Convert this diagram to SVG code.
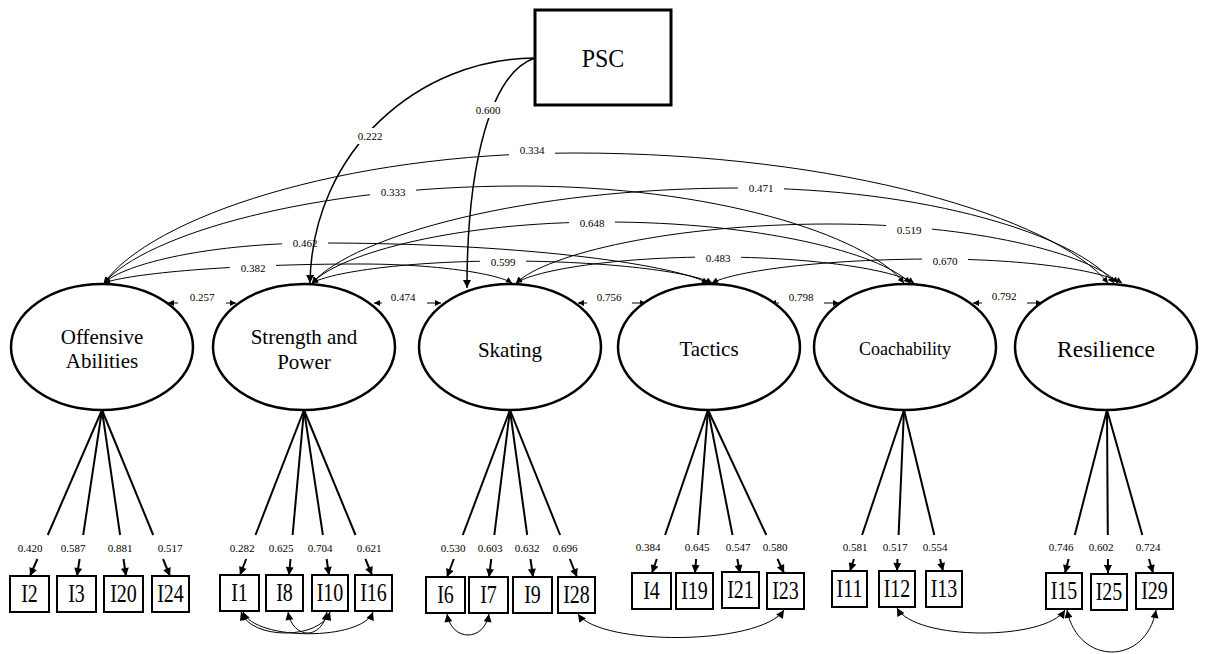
<svg xmlns="http://www.w3.org/2000/svg" width="1205" height="654" viewBox="0 0 1205 654">
  <defs>
    <marker id="tip" viewBox="0 0 10 10" refX="10" refY="5" markerWidth="7" markerHeight="6" markerUnits="userSpaceOnUse" orient="auto-start-reverse">
      <path d="M0,0L10,5L0,10z" fill="#000"/>
    </marker>
    <marker id="tipL" viewBox="0 0 10 10" refX="10" refY="5" markerWidth="9" markerHeight="8" markerUnits="userSpaceOnUse" orient="auto-start-reverse">
      <path d="M0,0L10,5L0,10z" fill="#000"/>
    </marker>
  </defs>
  <style>
    text { font-family: "Liberation Serif", "Times New Roman", serif; fill: #000; text-anchor: middle; }
    .lat { fill: #fff; stroke: #000; stroke-width: 2.5; }
    .box { fill: #fff; stroke: #000; stroke-width: 2; }
    .name { font-size: 21px; }
    .item { font-size: 20px; }
    .num { font-size: 11px; }
    .bg { fill: #fff; }
    .cor { fill: none; stroke: #000; stroke-width: 1; marker-start: url(#tip); marker-end: url(#tip); }
    .stub { fill: none; stroke: #000; stroke-width: 1; marker-start: url(#tip); marker-end: url(#tip); }
    .load { fill: none; stroke: #000; stroke-width: 2; }
    .loadtip { fill: none; stroke: #000; stroke-width: 2; marker-end: url(#tipL); }
    .path { fill: none; stroke: #000; stroke-width: 1.5; marker-end: url(#tipL); }
    .cov { fill: none; stroke: #000; stroke-width: 1; marker-start: url(#tipL); marker-end: url(#tipL); }
  </style>

  <rect width="1205" height="654" fill="#fff"/>

  <!-- factor correlations (curved, double-headed) -->
  <g id="correlations">
    <path class="cor" d="M104,283 C151,218 339.5,153 575,153 C841.5,153 1054.7,218 1108,283"/>
    <path class="cor" d="M104,283 C145.6,234.5 312,186 520,186 C712,186 865.6,234.5 904,283"/>
    <path class="cor" d="M104,283 C125.6,263 212,243 320,243 C514,243 669.2,263 708,283"/>
    <path class="cor" d="M104,283 C129.6,273.5 232,264 360,264 C436,264 496.8,273.5 512,283"/>
    <path class="cor" d="M312,283 C331.3,272 408.5,261 505,261 C608.5,261 691.3,272 712,283"/>
    <path class="cor" d="M312,283 C341.3,252.5 458.5,222 605,222 C757.5,222 879.5,252.5 910,283"/>
    <path class="cor" d="M312,283 C354.8,235.5 526,188 740,188 C927,188 1076.6,235.5 1114,283"/>
    <path class="cor" d="M516,283 C535.9,270 615.5,257 715,257 C814.5,257 894.1,270 914,283"/>
    <path class="cor" d="M516,283 C547.4,253.5 673,224 830,224 C974,224 1089.2,253.5 1118,283"/>
    <path class="cor" d="M712,283 C734.3,271 823.5,259 935,259 C1028.5,259 1103.3,271 1122,283"/>
    <!-- neighbouring factors -->
    <path class="stub" d="M168,303 L236,303"/>
    <path class="stub" d="M374,303 L441,303"/>
    <path class="stub" d="M578,303 L646,303"/>
    <path class="stub" d="M770,303 L839,303"/>
    <path class="stub" d="M973,303 L1042,303"/>
  </g>

  <g id="correlation-labels">
    <rect class="bg" x="509" y="143" width="46" height="13"/><text class="num" x="532" y="153.8">0.334</text>
    <rect class="bg" x="370" y="185" width="46" height="13"/><text class="num" x="393" y="195.8">0.333</text>
    <rect class="bg" x="738" y="181" width="46" height="13"/><text class="num" x="761" y="191.8">0.471</text>
    <rect class="bg" x="569" y="216" width="46" height="13"/><text class="num" x="592" y="226.8">0.648</text>
    <rect class="bg" x="886" y="223" width="46" height="13"/><text class="num" x="909" y="233.8">0.519</text>
    <rect class="bg" x="282" y="236" width="46" height="13"/><text class="num" x="305" y="246.8">0.462</text>
    <rect class="bg" x="230" y="261" width="46" height="13"/><text class="num" x="253" y="271.8">0.382</text>
    <rect class="bg" x="480" y="255" width="46" height="13"/><text class="num" x="503" y="265.8">0.599</text>
    <rect class="bg" x="695" y="251" width="46" height="13"/><text class="num" x="718" y="261.8">0.483</text>
    <rect class="bg" x="922" y="254" width="46" height="13"/><text class="num" x="945" y="264.8">0.670</text>
    <rect class="bg" x="178" y="290" width="48" height="17"/><text class="num" x="202" y="300.8">0.257</text>
    <rect class="bg" x="382" y="290" width="45" height="17"/><text class="num" x="403" y="300.8">0.474</text>
    <rect class="bg" x="587" y="290" width="45" height="17"/><text class="num" x="609" y="300.8">0.756</text>
    <rect class="bg" x="779" y="290" width="45" height="17"/><text class="num" x="801" y="300.8">0.798</text>
    <rect class="bg" x="982" y="289" width="45" height="17"/><text class="num" x="1004" y="299.8">0.792</text>
  </g>

  <!-- structural paths from PSC -->
  <g id="psc-paths">
    <path class="path" d="M535,58 C420,58 312,150 310,283"/>
    <path class="path" d="M535,58 C492,72 467,160 467,288"/>
    <rect class="bg" x="354" y="128" width="32" height="16"/><text class="num" x="370" y="139.8">0.222</text>
    <rect class="bg" x="472" y="102" width="32" height="16"/><text class="num" x="488" y="113.8">0.600</text>
  </g>

  <g id="PSC">
    <rect x="535" y="10" width="136" height="95" fill="#fff" stroke="#000" stroke-width="3"/>
    <text transform="translate(603,67) scale(1,1.08)" style="font-size:24px">PSC</text>
  </g>

  <!-- latent factors -->
  <g id="offensive-abilities">
    <ellipse class="lat" cx="102" cy="347" rx="91" ry="63"/>
    <text class="name" x="102" y="344">Offensive</text>
    <text class="name" x="102" y="368">Abilities</text>
  </g>
  <g id="strength-and-power">
    <ellipse class="lat" cx="304" cy="347" rx="91" ry="63"/>
    <text class="name" x="304" y="344">Strength and</text>
    <text class="name" x="304" y="369">Power</text>
  </g>
  <g id="skating">
    <ellipse class="lat" cx="510" cy="347" rx="91" ry="63"/>
    <text class="name" x="510" y="357">Skating</text>
  </g>
  <g id="tactics">
    <ellipse class="lat" cx="709" cy="347" rx="91" ry="63"/>
    <text class="name" x="709" y="356">Tactics</text>
  </g>
  <g id="coachability">
    <ellipse class="lat" cx="905" cy="347" rx="91" ry="63"/>
    <text x="905" y="355" style="font-size:18px">Coachability</text>
  </g>
  <g id="resilience">
    <ellipse class="lat" cx="1106" cy="347" rx="91" ry="63"/>
    <text x="1106" y="357" style="font-size:23.5px">Resilience</text>
  </g>

  <!-- factor loadings -->
  <g id="loadings">
    <path class="load" d="M102,410 L47.8,535"/><path class="loadtip" d="M37.4,559 L30,576"/>
    <path class="load" d="M102,410 L83.2,535"/><path class="loadtip" d="M79.6,559 L77,576"/>
    <path class="load" d="M102,410 L120.1,535"/><path class="loadtip" d="M123.5,559 L126,576"/>
    <path class="load" d="M102,410 L153.2,535"/><path class="loadtip" d="M163,559 L170,576"/>

    <path class="load" d="M304,410 L255.5,535"/><path class="loadtip" d="M246.2,559 L240,575"/>
    <path class="load" d="M304,410 L292.6,535"/><path class="loadtip" d="M290.5,559 L289,575"/>
    <path class="load" d="M304,410 L322.9,535"/><path class="loadtip" d="M326.6,559 L329,575"/>
    <path class="load" d="M304,410 L355.5,535"/><path class="loadtip" d="M365.4,559 L372,575"/>

    <path class="load" d="M510,410 L462.8,535"/><path class="loadtip" d="M453.8,559 L447,577"/>
    <path class="load" d="M510,410 L494.3,535"/><path class="loadtip" d="M491.3,559 L489,577"/>
    <path class="load" d="M510,410 L527.2,535"/><path class="loadtip" d="M530.5,559 L533,577"/>
    <path class="load" d="M510,410 L560.1,535"/><path class="loadtip" d="M569.8,559 L577,577"/>

    <path class="load" d="M708,410 L665.1,535"/><path class="loadtip" d="M656.8,559 L652,573"/>
    <path class="load" d="M708,410 L698,535"/><path class="loadtip" d="M696.1,559 L695,573"/>
    <path class="load" d="M708,410 L732.5,535"/><path class="loadtip" d="M737.3,559 L740,573"/>
    <path class="load" d="M708,410 L766.3,535"/><path class="loadtip" d="M777.5,559 L784,573"/>

    <path class="load" d="M904,410 L862.1,535"/><path class="loadtip" d="M854,559 L850,571"/>
    <path class="load" d="M904,410 L898.6,535"/><path class="loadtip" d="M897.5,559 L897,571"/>
    <path class="load" d="M904,410 L934.3,535"/><path class="loadtip" d="M940.1,559 L943,571"/>

    <path class="load" d="M1107,410 L1074.8,535"/><path class="loadtip" d="M1068.6,559 L1065,573"/>
    <path class="load" d="M1107,410 L1107.8,535"/><path class="loadtip" d="M1107.9,559 L1108,573"/>
    <path class="load" d="M1107,410 L1142.3,535"/><path class="loadtip" d="M1149,559 L1153,573"/>
  </g>

  <g id="loading-values">
    <text class="num" x="30" y="552">0.420</text>
    <text class="num" x="73" y="552">0.587</text>
    <text class="num" x="120" y="552">0.881</text>
    <text class="num" x="170" y="552">0.517</text>
    <text class="num" x="242" y="552">0.282</text>
    <text class="num" x="281" y="552">0.625</text>
    <text class="num" x="320" y="552">0.704</text>
    <text class="num" x="369" y="552">0.621</text>
    <text class="num" x="453" y="552">0.530</text>
    <text class="num" x="490" y="552">0.603</text>
    <text class="num" x="527" y="552">0.632</text>
    <text class="num" x="565" y="552">0.696</text>
    <text class="num" x="648" y="551">0.384</text>
    <text class="num" x="697" y="551">0.645</text>
    <text class="num" x="738" y="551">0.547</text>
    <text class="num" x="775" y="551">0.580</text>
    <text class="num" x="855" y="551">0.581</text>
    <text class="num" x="895" y="551">0.517</text>
    <text class="num" x="935" y="551">0.554</text>
    <text class="num" x="1061" y="551">0.746</text>
    <text class="num" x="1101" y="551">0.602</text>
    <text class="num" x="1148" y="551">0.724</text>
  </g>

  <!-- observed items; labels are drawn slightly tall -->
  <g id="I2"><rect class="box" x="10" y="576" width="39" height="36"/><text class="item" transform="translate(29.5,602) scale(1,1.25)">I2</text></g>
  <g id="I3"><rect class="box" x="57" y="576" width="39" height="36"/><text class="item" transform="translate(76.5,602) scale(1,1.25)">I3</text></g>
  <g id="I20"><rect class="box" x="104" y="576" width="39" height="36"/><text class="item" transform="translate(123.5,602) scale(1,1.25)">I20</text></g>
  <g id="I24"><rect class="box" x="152" y="576" width="37" height="36"/><text class="item" transform="translate(170.5,602) scale(1,1.25)">I24</text></g>

  <g id="I1"><rect class="box" x="220" y="575" width="39" height="36"/><text class="item" transform="translate(239.5,601) scale(1,1.25)">I1</text></g>
  <g id="I8"><rect class="box" x="266" y="575" width="37" height="36"/><text class="item" transform="translate(284.5,601) scale(1,1.25)">I8</text></g>
  <g id="I10"><rect class="box" x="312" y="575" width="36" height="36"/><text class="item" transform="translate(330,601) scale(1,1.25)">I10</text></g>
  <g id="I16"><rect class="box" x="355" y="575" width="37" height="36"/><text class="item" transform="translate(373.5,601) scale(1,1.25)">I16</text></g>

  <g id="I6"><rect class="box" x="426" y="577" width="39" height="36"/><text class="item" transform="translate(445.5,603) scale(1,1.25)">I6</text></g>
  <g id="I7"><rect class="box" x="469" y="577" width="39" height="36"/><text class="item" transform="translate(488.5,603) scale(1,1.25)">I7</text></g>
  <g id="I9"><rect class="box" x="513" y="577" width="39" height="36"/><text class="item" transform="translate(532.5,603) scale(1,1.25)">I9</text></g>
  <g id="I28"><rect class="box" x="558" y="577" width="37" height="36"/><text class="item" transform="translate(576.5,603) scale(1,1.25)">I28</text></g>

  <g id="I4"><rect class="box" x="632" y="573" width="39" height="36"/><text class="item" transform="translate(651.5,599) scale(1,1.25)">I4</text></g>
  <g id="I19"><rect class="box" x="676" y="573" width="37" height="36"/><text class="item" transform="translate(694.5,599) scale(1,1.25)">I19</text></g>
  <g id="I21"><rect class="box" x="722" y="572" width="37" height="36"/><text class="item" transform="translate(740.5,598) scale(1,1.25)">I21</text></g>
  <g id="I23"><rect class="box" x="767" y="573" width="37" height="36"/><text class="item" transform="translate(785.5,599) scale(1,1.25)">I23</text></g>

  <g id="I11"><rect class="box" x="832" y="571" width="35" height="36"/><text class="item" transform="translate(849.5,597) scale(1,1.25)">I11</text></g>
  <g id="I12"><rect class="box" x="879" y="571" width="36" height="36"/><text class="item" transform="translate(897,597) scale(1,1.25)">I12</text></g>
  <g id="I13"><rect class="box" x="926" y="571" width="36" height="36"/><text class="item" transform="translate(944,597) scale(1,1.25)">I13</text></g>

  <g id="I15"><rect class="box" x="1046" y="573" width="36" height="36"/><text class="item" transform="translate(1064,599) scale(1,1.25)">I15</text></g>
  <g id="I25"><rect class="box" x="1091" y="574" width="36" height="36"/><text class="item" transform="translate(1109,600) scale(1,1.25)">I25</text></g>
  <g id="I29"><rect class="box" x="1136" y="573" width="37" height="36"/><text class="item" transform="translate(1154.5,599) scale(1,1.25)">I29</text></g>

  <!-- residual covariances between items -->
  <g id="residual-covariances">
    <path class="cov" d="M241,612 C251,640 320,640 330,612"/>
    <path class="cov" d="M243,612 C255,641 362,641 373,612"/>
    <path class="cov" d="M288,612 C293,640 322,640 327,612"/>
    <path class="cov" d="M447,614 C452,642 484,642 489,614"/>
    <path class="cov" d="M578,614 C600,646 760,646 784,610"/>
    <path class="cov" d="M897,608 C915,641 1045,641 1065,610"/>
    <path class="cov" d="M1067,610 C1078,666 1146,666 1156,610"/>
  </g>
</svg>
